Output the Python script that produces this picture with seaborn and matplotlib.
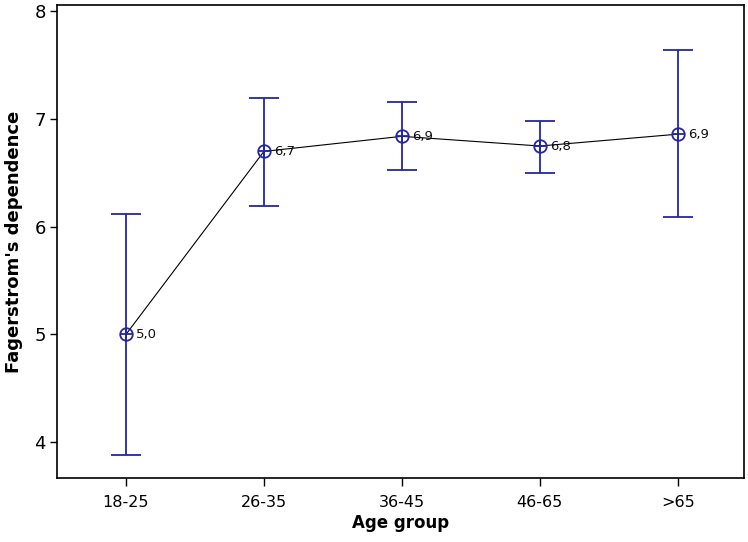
import matplotlib
matplotlib.use("Agg")
import matplotlib.pyplot as plt
import seaborn as sns
import pandas as pd
import numpy as np

# data
age_groups = ['18-25', '26-35', '36-45', '46-65', '>65']
means = [5.0, 6.70, 6.84, 6.75, 6.86]
upper = [6.12, 7.20, 7.16, 6.98, 7.64]
lower = [3.88, 6.19, 6.53, 6.50, 6.09]
labels = ['5,0', '6,7', '6,9', '6,8', '6,9']

df = pd.DataFrame({'age': age_groups, 'mean': means, 'upper': upper, 'lower': lower})
df['pos'] = np.arange(len(df))

sns.set_style('ticks', {'text.color': 'black', 'axes.labelcolor': 'black',
                        'xtick.color': 'black', 'ytick.color': 'black'})
plt.rcParams['font.family'] = ['DejaVu Sans']

blue = '#2424a8'

fig = plt.figure(figsize=(7.48, 5.42), dpi=100)
ax = fig.add_axes([57/748, 1 - 478/542, (744 - 57)/748, (478 - 5)/542])

# connecting line
sns.lineplot(data=df, x='pos', y='mean', color='black', lw=0.8, ax=ax, zorder=2)

# error bars
yerr = [df['mean'] - df['lower'], df['upper'] - df['mean']]
ax.errorbar(df['pos'], df['mean'], yerr=yerr, fmt='none', ecolor=blue,
            elinewidth=1.3, capsize=11, capthick=1.3, zorder=3)

# circle-plus markers
ax.plot(df['pos'], df['mean'], 'o', ms=9, mfc='none', mec=blue, mew=1.3, zorder=4)
ax.plot(df['pos'], df['mean'], '+', ms=9, mec=blue, mew=1.3, zorder=4)

for p, m, t in zip(df['pos'], df['mean'], labels):
    ax.text(p + 0.075, m, t, fontsize=9.5, va='center', ha='left', color='#111111')

ax.set_xlim(-0.5, 4.48)
ax.set_ylim(3.666, 8.06)
ax.set_xticks(df['pos'])
ax.set_xticklabels(age_groups, fontsize=11.5)
ax.set_yticks([4, 5, 6, 7, 8])
ax.tick_params(axis='y', labelsize=13, length=5, width=1, direction='out', pad=3)
ax.tick_params(axis='x', length=6, width=1, direction='out', pad=6)
for s in ax.spines.values():
    s.set_linewidth(1.2)
    s.set_color('black')

ax.set_xlabel('Age group', fontsize=12, fontweight='bold', labelpad=3)
ax.set_ylabel("Fagerstrom's dependence", fontsize=13, fontweight='bold', labelpad=8)

fig.savefig('out.png', dpi=100)
